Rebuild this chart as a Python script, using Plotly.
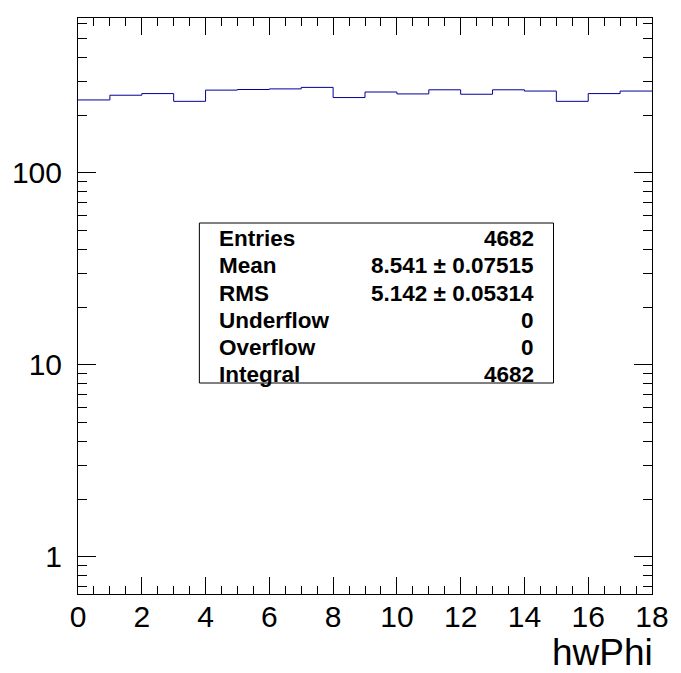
import plotly.graph_objects as go

# ---- data ----
bin_edges = list(range(0, 19))
counts = [240, 254, 259, 236, 270, 272, 274, 279, 247, 264, 258, 271, 257, 271, 267, 236, 259, 267]
x_tick_vals = [0, 2, 4, 6, 8, 10, 12, 14, 16, 18]
y_tick_vals = [1, 10, 100]
y_tick_text = ["1", "10", "100"]
stat_labels = ["Entries", "Mean", "RMS", "Underflow", "Overflow", "Integral"]
stat_values = ["4682", "8.541 \u00b1 0.07515", "5.142 \u00b1 0.05314", "0", "0", "4682"]
x_title = "hwPhi"

W, H = 681, 673
L, R, T, B = 77, 27, 18, 79
pw, ph = W - L - R, H - T - B

def px(x):
    return (x - L) / pw

def py(y):
    return 1 - (y - T) / ph

fig = go.Figure()
fig.add_trace(go.Scatter(
    x=bin_edges,
    y=counts + [counts[-1]],
    mode="lines",
    line=dict(shape="hv", color="#00009a", width=1),
    hoverinfo="skip",
    showlegend=False,
))

font = "Liberation Sans, Arial, Helvetica, sans-serif"

fig.update_xaxes(
    range=[0, 18],
    tickvals=x_tick_vals,
    ticks="inside", ticklen=17, tickwidth=1, tickcolor="black",
    minor=dict(dtick=0.5, ticks="inside", ticklen=8, tickwidth=1, tickcolor="black"),
    showline=True, linecolor="black", linewidth=1, mirror="allticks",
    showgrid=False, zeroline=False,
    ticklabelstandoff=-4,
    tickfont=dict(family=font, size=30, color="black"),
)
fig.update_yaxes(
    type="log",
    range=[-0.193, 2.807],
    tickvals=y_tick_vals, ticktext=y_tick_text,
    ticks="inside", ticklen=18, tickwidth=1, tickcolor="black",
    minor=dict(dtick="D1", ticks="inside", ticklen=9, tickwidth=1, tickcolor="black"),
    showline=True, linecolor="black", linewidth=1, mirror="allticks",
    showgrid=False, zeroline=False,
    ticklabelstandoff=9,
    tickfont=dict(family=font, size=30, color="black"),
)

# stats box
fig.add_shape(type="rect", xref="paper", yref="paper",
              x0=px(199), x1=px(555), y0=py(383), y1=py(223),
              line=dict(color="black", width=1), fillcolor="white")
row_y = [238, 265, 293, 320, 347, 374]
for lab, val, yy in zip(stat_labels, stat_values, row_y):
    fig.add_annotation(xref="paper", yref="paper", x=px(217), y=py(yy),
                       xanchor="left", yanchor="middle", showarrow=False,
                       text="<b>%s</b>" % lab,
                       font=dict(family=font, size=22.5, color="black"))
    fig.add_annotation(xref="paper", yref="paper", x=px(537), y=py(yy),
                       xanchor="right", yanchor="middle", showarrow=False,
                       text="<b>%s</b>" % val,
                       font=dict(family=font, size=22.5, color="black"))

fig.add_annotation(xref="paper", yref="paper", x=px(656), y=py(652),
                   xanchor="right", yanchor="middle", showarrow=False, borderpad=0,
                   text=x_title, font=dict(family=font, size=37, color="black"))

fig.update_layout(
    width=W, height=H,
    margin=dict(l=L, r=R, t=T, b=B),
    paper_bgcolor="white", plot_bgcolor="white",
    showlegend=False,
)
fig.write_html("out.html", config={"displayModeBar": False},
               post_script="document.body.style.margin='0';document.body.style.overflow='hidden';")
